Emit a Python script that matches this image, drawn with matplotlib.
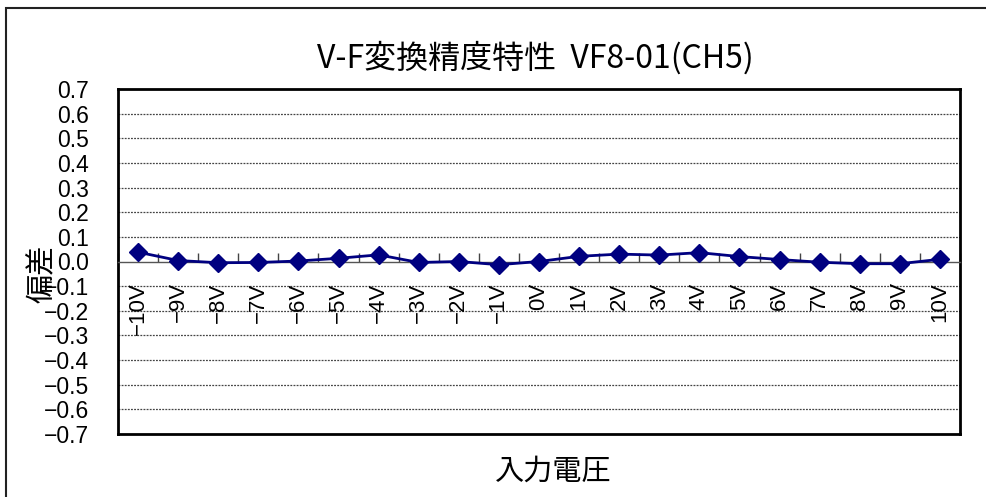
import numpy as np
import matplotlib.pyplot as plt
from matplotlib.patches import Rectangle
from matplotlib.ticker import FixedLocator, NullFormatter

# data
volts = [-10, -9, -8, -7, -6, -5, -4, -3, -2, -1, 0, 1, 2, 3, 4, 5, 6, 7, 8, 9, 10]
labels = ['\u2212%dV' % -v if v < 0 else '%dV' % v for v in volts]
deviation = [0.038, 0.004, -0.005, -0.004, 0.002, 0.013, 0.027, -0.004, 0.0, -0.013,
             0.0, 0.021, 0.030, 0.026, 0.036, 0.020, 0.008, -0.003, -0.009, -0.009, 0.009]
yticks = [round(0.1 * k, 1) for k in range(-7, 8)]

title = 'V-F変換精度特性  VF8-01(CH5)'
xlab = '入力電圧'
ylab = '偏差'

jp = ['Noto Sans CJK JP', 'DejaVu Sans']
num = ['Liberation Sans', 'DejaVu Sans']

W, H = 987, 497
fig = plt.figure(figsize=(W / 100, H / 100), dpi=100)
ax = fig.add_axes([118 / W, 1 - 434 / H, (960 - 118) / W, (434 - 89) / H])

xpos = np.arange(len(volts))
ax.plot(xpos, deviation, color='#000080', lw=2.0, marker='D', ms=9, zorder=5)

ax.set_xlim(-0.5, len(volts) - 0.5)
ax.set_ylim(-0.7, 0.7)

# y axis
ax.set_yticks(yticks)
ax.set_yticklabels(['%.1f' % t if t >= 0 else '\u2212%.1f' % -t for t in yticks],
                   fontfamily=num, fontsize=16.5)
ax.tick_params(axis='y', length=0, pad=21)
for t in yticks:
    if -0.7 < t < 0.7 and t != 0:
        ax.axhline(t, color='#444444', lw=0.9, ls=(0, (1.5, 1)), zorder=1)

# x axis crossing at zero, excel-style ticks between categories
ax.spines['bottom'].set_position(('data', 0))
ax.spines['bottom'].set_color('#555555')
ax.spines['bottom'].set_linewidth(1.0)
ax.xaxis.set_major_locator(FixedLocator(np.arange(-0.5, len(volts), 1.0)))
ax.xaxis.set_major_formatter(NullFormatter())
ax.xaxis.set_minor_locator(FixedLocator(xpos))
ax.set_xticklabels(labels, minor=True, rotation=90, fontfamily=num, fontsize=16)
ax.tick_params(axis='x', which='major', direction='in', length=6.5, width=1.0, color='#444444')
ax.tick_params(axis='x', which='minor', length=0, pad=15)

for s in ['top', 'left', 'right']:
    ax.spines[s].set_linewidth(2.0)
    ax.spines[s].set_color('black')
# full frame bottom line
ax.plot([0, 1], [0, 0], transform=ax.transAxes, color='black', lw=2.0, clip_on=False)

fig.text(535 / W, 1 - 58 / H, title, fontfamily=jp, fontsize=23, ha='center', va='center')
fig.text(553 / W, 1 - 472 / H, xlab, fontfamily=jp, fontsize=21, ha='center', va='center')
fig.text(43 / W, 1 - 274 / H, ylab, fontfamily=jp, fontsize=21, rotation=90,
         ha='center', va='center')

# outer chart border (only left and top visible)
fig.patches.append(Rectangle((6 / W, -0.1), 1.2, 1 - 8 / H + 0.1, transform=fig.transFigure,
                             fill=False, ec='#222222', lw=1.5))

fig.savefig('out.png', dpi=100)
